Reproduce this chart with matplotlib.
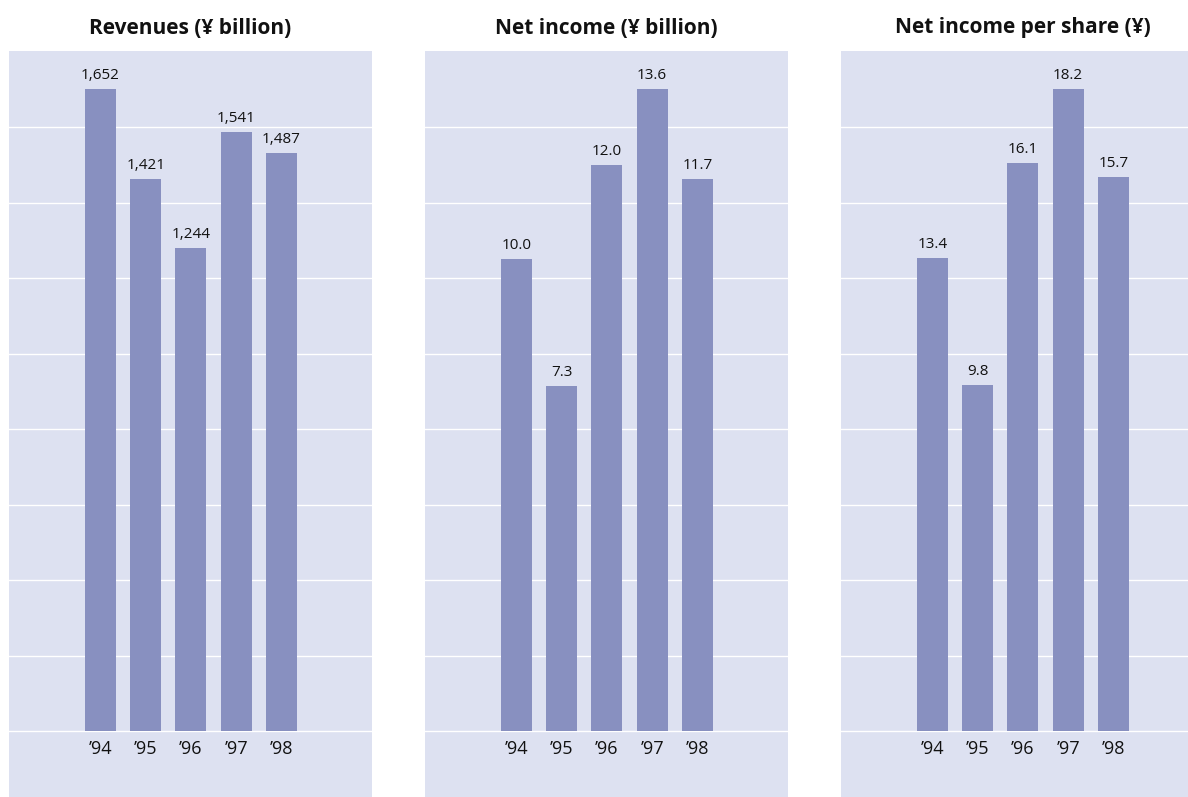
import matplotlib.pyplot as plt
import numpy as np

plt.rcParams['font.family'] = ['Open Sans', 'DejaVu Sans']

years = ["\u201994", "\u201995", "\u201996", "\u201997", "\u201998"]
revenues = [1652, 1421, 1244, 1541, 1487]
net_income = [10.0, 7.3, 12.0, 13.6, 11.7]
net_income_per_share = [13.4, 9.8, 16.1, 18.2, 15.7]
titles = ["Revenues (\u00a5 billion)", "Net income (\u00a5 billion)", "Net income per share (\u00a5)"]

panel_bg = "#dde1f1"
bar_color = "#8890c0"

W, H = 1188, 797
fig = plt.figure(figsize=(W / 100, H / 100), dpi=100)

panels = [
    (9, revenues, lambda v: f"{v:,.0f}"),
    (425, net_income, lambda v: f"{v:.1f}"),
    (841, net_income_per_share, lambda v: f"{v:.1f}"),
]

panel_w = 363
panel_top = 51
baseline_px = 731
bar_top_px = 89
grid_step_px = 75.45

for (left, values, fmt), title in zip(panels, titles):
    ax = fig.add_axes([left / W, 0, panel_w / W, (H - panel_top) / H])
    ax.set_facecolor(panel_bg)
    s = max(values) / (baseline_px - bar_top_px)  # data units per pixel
    ax.set_ylim(-(H - baseline_px) * s, (baseline_px - panel_top) * s)
    ax.set_xlim(-2.02, 6.0)
    for k in range(9):
        ax.axhline(k * grid_step_px * s, color="white", lw=1.0, zorder=1)
    x = np.arange(len(years))
    ax.bar(x, values, width=0.685, color=bar_color, zorder=2)
    for xi, v in zip(x, values):
        ax.text(xi, v + 13.5 * s, fmt(v), ha="center", va="center", fontsize=11, color="#111111")
    for xi, lab in zip(x, years):
        ax.text(xi, -18 * s, lab, ha="center", va="center", fontsize=13, color="#111111")
    for sp in ax.spines.values():
        sp.set_visible(False)
    ax.set_xticks([])
    ax.set_yticks([])
    fig.text((left + panel_w / 2) / W, 1 - 28 / H, title, ha="center", va="center",
             fontsize=15, fontweight="bold", color="#111111")

fig.savefig("out.png", dpi=100)
